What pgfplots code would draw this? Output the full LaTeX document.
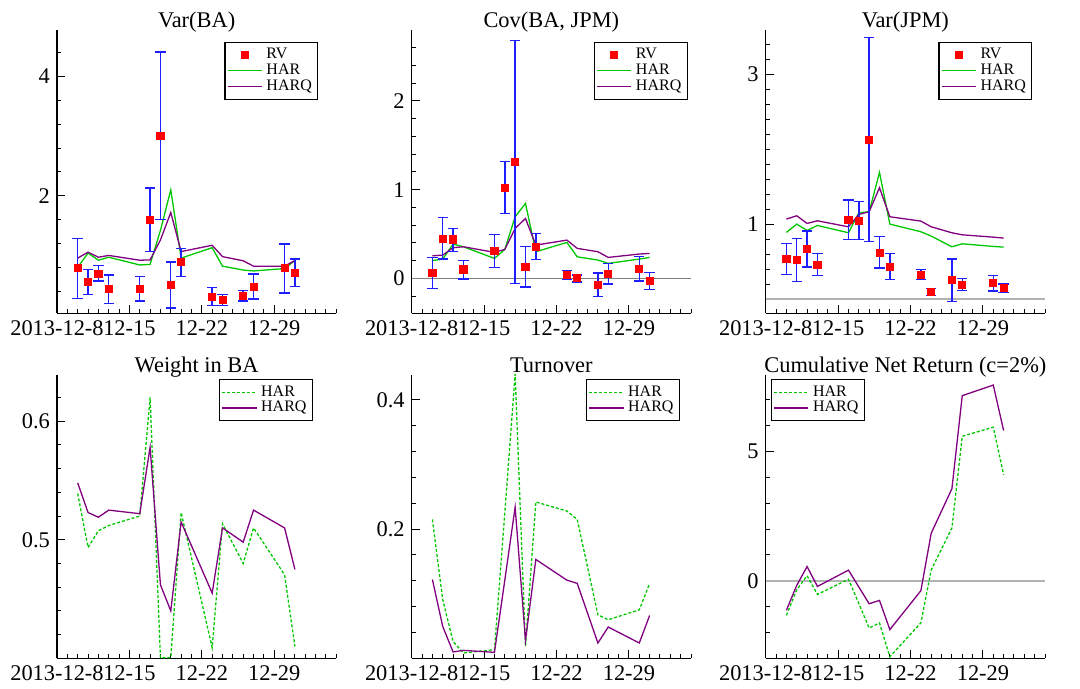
\documentclass[border=0pt]{standalone}
\usepackage{fontspec}
\setmainfont{Liberation Serif}
\usepackage{pgfplots}
\usepackage{pgfplotstable}
\pgfplotsset{compat=1.18}

\definecolor{harg}{RGB}{0,200,0}
\definecolor{harqp}{RGB}{128,0,128}
\definecolor{ebar}{RGB}{30,30,255}

% day  rv  hi  lo  har  harq
\pgfplotstableread{
d  rv     hi     lo     har    harq
10 0.79   1.285  0.28   0.80   0.955
11 0.56   0.765  0.35   1.04   1.055
12 0.69   0.83   0.57   0.92   0.97
13 0.44   0.67   0.195  0.97   1.00
16 0.44   0.65   0.235  0.84   0.92
17 1.60   2.13   1.07   0.85   0.925
18 3.01   4.41   1.60   1.42   1.26
19 0.51   0.89   0.12   2.10   1.72
20 0.89   1.12   0.65   0.955  1.065
23 0.31   0.46   0.16   1.13   1.17
24 0.25   0.35   0.16   0.82   0.98
26 0.32   0.41   0.235  0.755  0.91
27 0.475  0.69   0.27   0.74   0.82
30 0.79   1.195  0.37   0.78   0.82
31 0.71   0.94   0.475  0.915  0.915
}\tba

\pgfplotstableread{
d  rv     hi     lo     har    harq
10 0.064  0.236  -0.113 0.20   0.254
11 0.447  0.683  0.218  0.217  0.262
12 0.439  0.559  0.304  0.386  0.345
13 0.101  0.203  -0.008 0.356  0.356
16 0.311  0.495  0.124  0.225  0.293
17 1.02   1.317  0.732  0.326  0.326
18 1.31   2.683  -0.056 0.694  0.563
19 0.128  0.356  -0.098 0.844  0.675
20 0.353  0.503  0.214  0.30   0.375
23 0.041  0.086  -0.011 0.405  0.431
24 0.004  0.038  -0.041 0.243  0.338
26 -0.071 0.06   -0.203 0.206  0.30
27 0.053  0.169  -0.064 0.169  0.236
30 0.109  0.244  -0.03  0.217  0.274
31 -0.026 0.064  -0.124 0.236  0.281
}\tcov

\pgfplotstableread{
d  rv     hi     lo     har    harq
10 0.532  0.742  0.327  0.889  1.067
11 0.523  0.804  0.238  1.0    1.111
12 0.670  0.906  0.430  0.915  1.009
13 0.457  0.608  0.314  0.982  1.044
16 1.053  1.321  0.795  0.884  0.964
17 1.040  1.298  0.795  1.151  1.129
18 2.127  3.49   0.768  1.165  1.165
19 0.617  0.835  0.412  1.69   1.485
20 0.430  0.604  0.261  1.0    1.098
23 0.323  0.394  0.261  0.898  1.04
24 0.091  0.140  0.047  0.84   0.964
26 0.256  0.537  -0.029 0.697  0.884
27 0.189  0.274  0.114  0.737  0.857
30 0.216  0.318  0.105  0.702  0.826
31 0.154  0.203  0.087  0.693  0.813
}\tjpm

\pgfplotstableread{
d  har     harq
10 0.539   0.548
11 0.4935  0.523
12 0.5076  0.519
13 0.512   0.525
16 0.520   0.522
17 0.620   0.578
18 0.4005  0.462
19 0.4005  0.440
20 0.523   0.515
23 0.409   0.455
24 0.5135  0.510
26 0.480   0.498
27 0.510   0.525
30 0.4705  0.510
31 0.410   0.475
}\twgt

\pgfplotstableread{
d  har     harq
10 0.215   0.122
11 0.0905  0.0493
12 0.026   0.0098
13 0.0083  0.0123
16 0.0134  0.0092
17 0.225   0.121
18 0.440   0.234
19 0.0185  0.0277
20 0.242   0.153
23 0.228   0.121
24 0.215   0.116
26 0.0673  0.0237
27 0.0597  0.0484
30 0.075   0.0237
31 0.116   0.0663
}\tturn

\pgfplotstableread{
d  har    harq
10 -1.34  -1.14
11 -0.35  -0.18
12 0.19   0.55
13 -0.53  -0.22
16 0.06   0.41
17 -0.88  -0.24
18 -1.83  -0.89
19 -1.63  -0.76
20 -2.94  -1.89
23 -1.63  -0.386
24 0.42   1.84
26 2.04   3.56
27 5.59   7.16
30 5.94   7.57
31 4.10   5.81
}\tcum

\pgfplotsset{
  panel/.style={
    scale only axis, width=139.65pt, height=141.65pt, anchor=south west,
    axis x line=bottom, axis y line=left, axis line style={-, line width=0.6pt},
    xmin=8, xmax=35,
    xtick={8,15,22,29}, xticklabels={2013-12-8,12-15,12-22,12-29},
    minor xtick={9,...,35},
    tick align=inside, major tick length=4pt, minor tick length=2.2pt,
    tick style={black, line width=0.5pt},
    tick label style={font=\fontsize{11.2}{13}\selectfont},
    xticklabel style={font=\fontsize{11.2}{13}\selectfont},
    yticklabel style={font=\fontsize{11.2}{13}\selectfont},
    /pgf/number format/assume math mode=true,
    title style={font=\fontsize{11.2}{13}\selectfont, at={(0.5,1)}, anchor=base, yshift=-5pt},
    legend style={font=\fontsize{8}{9}\selectfont, line width=0.6pt,
      inner sep=1pt, row sep=-3pt},
    legend cell align=left,
  },
  rvstyle/.style={only marks, mark=square*, mark size=1.8pt,
    mark options={draw=red, fill=red},
    error bars/y dir=both, error bars/y explicit,
    error bars/error bar style={draw=ebar, line width=0.7pt},
    error bars/error mark options={draw=ebar, rotate=90, mark size=2.6pt, line width=0.7pt}},
  harline/.style={draw=harg, line width=0.65pt, mark=none},
  harqline/.style={draw=harqp, line width=0.65pt, mark=none},
  hardash/.style={draw=harg, line width=0.65pt, mark=none, dash pattern=on 1.5pt off 1pt},
  rvlegend/.style={only marks, mark=square*, mark size=1.8pt, mark options={draw=red, fill=red}},
}

\begin{document}
\begin{tikzpicture}
\path[use as bounding box] (0,0) rectangle (540pt,344.5pt);

% ---- top row ----
\begin{axis}[panel, at={(28.5pt,187.85pt)}, title={Var(BA)},
  ymin=0.03, ymax=4.78, ytick={2,4},
  minor ytick={0.4,0.8,1.2,1.6,2.4,2.8,3.2,3.6,4.4},
  legend style={at={(0.936,0.958)}, anchor=north east}]
  \addlegendimage{rvlegend}
  \addlegendentry{RV}
  \addplot[harline] table[x=d, y=har] {\tba};
  \addlegendentry{HAR}
  \addplot[harqline] table[x=d, y=harq] {\tba};
  \addlegendentry{HARQ}
  \addplot[rvstyle, forget plot] table[x=d, y=rv,
    y error plus expr=\thisrow{hi}-\thisrow{rv},
    y error minus expr=\thisrow{rv}-\thisrow{lo}] {\tba};
\end{axis}

\begin{axis}[panel, at={(205.85pt,187.85pt)}, title={Cov(BA, JPM)},
  ymin=-0.394, ymax=2.80, ytick={0,1,2},
  minor ytick={-0.2,0.2,0.4,0.6,0.8,1.2,1.4,1.6,1.8,2.2,2.4,2.6},
  legend style={at={(0.989,0.958)}, anchor=north east}]
  \addplot[draw=gray, line width=0.5pt, forget plot] coordinates {(8,0) (35,0)};
  \addlegendimage{rvlegend}
  \addlegendentry{RV}
  \addplot[harline] table[x=d, y=har] {\tcov};
  \addlegendentry{HAR}
  \addplot[harqline] table[x=d, y=harq] {\tcov};
  \addlegendentry{HARQ}
  \addplot[rvstyle, forget plot] table[x=d, y=rv,
    y error plus expr=\thisrow{hi}-\thisrow{rv},
    y error minus expr=\thisrow{rv}-\thisrow{lo}] {\tcov};
\end{axis}

\begin{axis}[panel, at={(382.85pt,187.85pt)}, title={Var(JPM)},
  ymin=-0.19, ymax=3.59, ytick={1,3},
  minor ytick={0,0.2,0.4,0.6,0.8,1.2,1.4,1.6,1.8,2,2.2,2.4,2.6,2.8,3.2,3.4},
  legend style={at={(0.955,0.958)}, anchor=north east}]
  \addplot[draw=black!30, line width=0.9pt, forget plot] coordinates {(8,0) (35,0)};
  \addlegendimage{rvlegend}
  \addlegendentry{RV}
  \addplot[harline] table[x=d, y=har] {\tjpm};
  \addlegendentry{HAR}
  \addplot[harqline] table[x=d, y=harq] {\tjpm};
  \addlegendentry{HARQ}
  \addplot[rvstyle, forget plot] table[x=d, y=rv,
    y error plus expr=\thisrow{hi}-\thisrow{rv},
    y error minus expr=\thisrow{rv}-\thisrow{lo}] {\tjpm};
\end{axis}

% ---- bottom row ----
\begin{axis}[panel, at={(28.5pt,15.35pt)}, title={Weight in BA},
  ymin=0.40, ymax=0.639, ytick={0.5,0.6},
  minor ytick={0.42,0.44,0.46,0.48,0.52,0.54,0.56,0.58,0.62},
  legend style={at={(0.917,0.986)}, anchor=north east}]
  \addlegendimage{hardash}
  \addlegendentry{HAR}
  \addlegendimage{harqline}
  \addlegendentry{HARQ}
  \addplot[hardash, forget plot] table[x=d, y=har] {\twgt};
  \addplot[harqline, forget plot] table[x=d, y=harq] {\twgt};
\end{axis}

\begin{axis}[panel, at={(205.85pt,15.35pt)}, title={Turnover},
  ymin=0, ymax=0.4386, ytick={0.2,0.4},
  minor ytick={0.04,0.08,0.12,0.16,0.24,0.28,0.32,0.36},
  legend style={at={(0.961,0.986)}, anchor=north east}]
  \addlegendimage{hardash}
  \addlegendentry{HAR}
  \addlegendimage{harqline}
  \addlegendentry{HARQ}
  \addplot[hardash, forget plot] table[x=d, y=har] {\tturn};
  \addplot[harqline, forget plot] table[x=d, y=harq] {\tturn};
\end{axis}

\begin{axis}[panel, at={(382.85pt,15.35pt)}, title={Cumulative Net Return (c=2\%)},
  ymin=-3, ymax=7.96, ytick={0,5},
  minor ytick={-2,-1,1,2,3,4,6,7},
  legend style={at={(0.019,0.986)}, anchor=north west}]
  \addplot[draw=black!30, line width=0.9pt, forget plot] coordinates {(8,0) (35,0)};
  \addplot[hardash] table[x=d, y=har] {\tcum};
  \addlegendentry{HAR}
  \addplot[harqline] table[x=d, y=harq] {\tcum};
  \addlegendentry{HARQ}
\end{axis}
\end{tikzpicture}
\end{document}
